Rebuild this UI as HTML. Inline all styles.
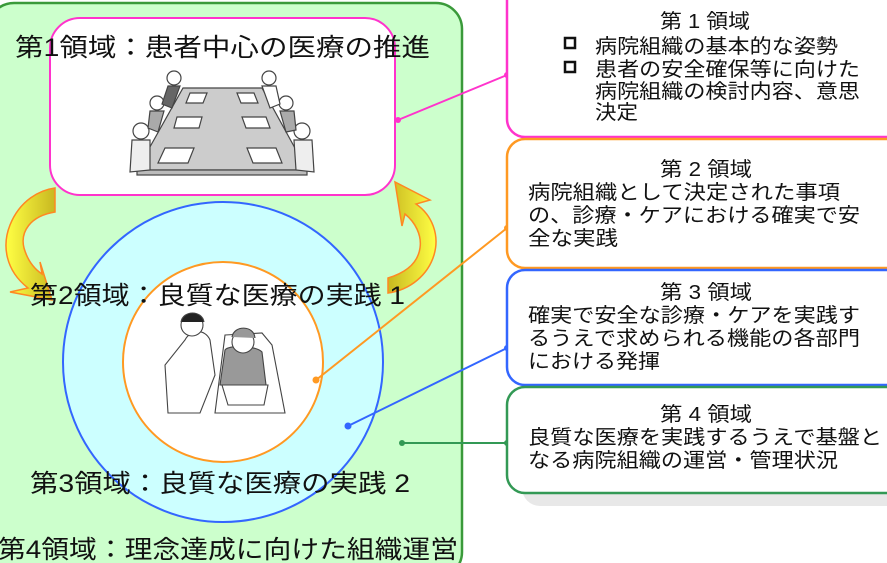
<!DOCTYPE html>
<html><head><meta charset="utf-8"><style>
html,body{margin:0;padding:0;background:#fff;width:887px;height:563px;overflow:hidden}
svg{display:block;overflow:hidden}
text{font-family:"Liberation Sans","Noto Sans CJK JP",sans-serif;fill:#111}
</style></head><body>
<svg width="887" height="563" viewBox="0 0 887 563">
<defs>
<linearGradient id="ag" x1="0" y1="0" x2="1" y2="0">
<stop offset="0" stop-color="#ffff44"/><stop offset="1" stop-color="#c8b820"/></linearGradient>
<linearGradient id="ag2" x1="1" y1="0" x2="0" y2="0">
<stop offset="0" stop-color="#ffff44"/><stop offset="1" stop-color="#c8b820"/></linearGradient>
</defs>
<rect x="-12" y="3" width="474" height="575" rx="26" fill="#ccffcc" stroke="#3a9a3a" stroke-width="2.5"/>
<rect x="50" y="18" width="345" height="177" rx="30" fill="#fff" stroke="#ff33cc" stroke-width="2"/>
<circle cx="223" cy="362" r="160" fill="#ccffff" stroke="#3366ff" stroke-width="2"/>
<circle cx="223" cy="362" r="100" fill="#fff" stroke="#ff9922" stroke-width="2"/>
<!-- curved arrows -->
<path d="M55,188 L55,212 C30,216 20,232 24,248 C28,262 36,270 42,274 L40,262 L52,300 L10,292 L28,288 C5,270 2,245 10,225 C20,200 40,190 55,188 Z" fill="url(#ag)" stroke="#ff8822" stroke-width="1.5"/>
<path d="M388,293 L388,278 C408,272 418,262 420,248 C422,235 415,222 405,214 L402,226 L395,182 L430,200 L416,204 C432,215 440,235 434,255 C428,275 410,290 388,293 Z" fill="url(#ag2)" stroke="#ff8822" stroke-width="1.5"/>
<!-- meeting illustration -->
<g stroke="#444" stroke-width="1.2">
<path d="M183,88 L262,88 L307,170 L137,170 Z" fill="#ccc"/>
<rect x="137" y="170" width="170" height="5" fill="#bbb"/>
<path d="M190,93 L207,93 L203,103 L186,103 Z" fill="#fff"/>
<path d="M237,93 L254,93 L258,103 L241,103 Z" fill="#fff"/>
<path d="M177,117 L202,117 L199,128 L174,128 Z" fill="#fff"/>
<path d="M242,117 L266,117 L270,128 L246,128 Z" fill="#fff"/>
<path d="M165,148 L194,148 L188,163 L158,163 Z" fill="#fff"/>
<path d="M247,148 L276,148 L282,163 L253,163 Z" fill="#fff"/>
<circle cx="174" cy="78" r="7" fill="#fff"/><circle cx="269" cy="78" r="7" fill="#fff"/>
<circle cx="157" cy="103" r="7" fill="#fff"/><circle cx="286" cy="103" r="7" fill="#fff"/>
<circle cx="141" cy="131" r="8" fill="#fff"/><circle cx="302" cy="131" r="8" fill="#fff"/>
<path d="M168,86 L180,86 L172,108 L162,104 Z" fill="#666"/>
<path d="M262,86 L276,86 L280,104 L270,108 Z" fill="#fff"/>
<path d="M150,111 L164,111 L158,132 L148,128 Z" fill="#aaa"/>
<path d="M280,111 L294,111 L296,130 L286,132 Z" fill="#aaa"/>
<path d="M132,140 L150,140 L150,170 L130,172 Z" fill="#eee"/>
<path d="M294,140 L312,140 L314,172 L296,170 Z" fill="#eee"/>
</g>
<!-- patient illustration -->
<g stroke="#444" stroke-width="1.1" fill="#fff">
<path d="M225,335 L262,333 L272,345 L285,413 L215,413 Z"/>
<path d="M225,350 C228,345 255,345 262,352 L266,385 L220,385 Z" fill="#999"/>
<circle cx="243" cy="342" r="11"/>
<path d="M232,337 C234,325 254,325 255,338" fill="#999"/>
<path d="M185,340 C190,330 205,328 210,340 L215,375 L200,413 L168,413 L165,365 Z"/>
<circle cx="192" cy="325" r="11"/>
<path d="M181,322 C183,310 202,310 204,322" fill="#222"/>
<path d="M222,385 L268,385 L264,405 L228,405 Z"/>
</g>
<g font-size="25">
<text x="15" y="56" textLength="415" lengthAdjust="spacingAndGlyphs">第1領域：患者中心の医療の推進</text>
<text x="30" y="304" textLength="375" lengthAdjust="spacingAndGlyphs">第2領域：良質な医療の実践 1</text>
<text x="30" y="492" textLength="380" lengthAdjust="spacingAndGlyphs">第3領域：良質な医療の実践 2</text>
<text x="-2" y="558" textLength="460" lengthAdjust="spacingAndGlyphs">第4領域：理念達成に向けた組織運営</text>
</g>
<g stroke-width="2">
<line x1="398" y1="120" x2="507" y2="75" stroke="#ff33cc"/>
<line x1="316" y1="380" x2="507" y2="228" stroke="#ff9922"/>
<line x1="348" y1="426" x2="507" y2="348" stroke="#3366ff"/>
<line x1="402" y1="443" x2="507" y2="443" stroke="#339955"/>
</g>
<circle cx="398" cy="120" r="3" fill="#ff33cc"/><circle cx="507" cy="75" r="3" fill="#ff33cc"/>
<circle cx="316" cy="380" r="3.5" fill="#ff9922"/><circle cx="507" cy="228" r="3" fill="#ff9922"/>
<circle cx="348" cy="426" r="3.5" fill="#3366ff"/><circle cx="507" cy="348" r="3" fill="#3366ff"/>
<circle cx="402" cy="443" r="3" fill="#339955"/><circle cx="507" cy="443" r="3" fill="#339955"/>
<rect x="522" y="398" width="400" height="108" rx="18" fill="#e8e8e8"/>
<rect x="507" y="-20" width="400" height="157" rx="18" fill="#fff" stroke="#ff33cc" stroke-width="2.5"/>
<rect x="507" y="139" width="400" height="129" rx="18" fill="#fff" stroke="#ff9922" stroke-width="2.5"/>
<rect x="507" y="270" width="400" height="115" rx="18" fill="#fff" stroke="#3366ff" stroke-width="2.5"/>
<rect x="507" y="387" width="400" height="106" rx="18" fill="#fff" stroke="#339955" stroke-width="2.5"/>
<g font-size="20" lengthAdjust="spacingAndGlyphs">
<text x="660" y="28" textLength="90" lengthAdjust="spacingAndGlyphs">第 1 領域</text>
<rect x="565" y="38" width="10" height="10" fill="none" stroke="#111" stroke-width="2.5"/>
<rect x="565" y="62" width="10" height="10" fill="none" stroke="#111" stroke-width="2.5"/>
<text x="595" y="53" textLength="243" lengthAdjust="spacingAndGlyphs">病院組織の基本的な姿勢</text>
<text x="595" y="76" textLength="265" lengthAdjust="spacingAndGlyphs">患者の安全確保等に向けた</text>
<text x="595" y="98" textLength="265" lengthAdjust="spacingAndGlyphs">病院組織の検討内容、意思</text>
<text x="595" y="119" textLength="43" lengthAdjust="spacingAndGlyphs">決定</text>
<text x="660" y="176" textLength="92" lengthAdjust="spacingAndGlyphs">第 2 領域</text>
<text x="528" y="199" textLength="312" lengthAdjust="spacingAndGlyphs">病院組織として決定された事項</text>
<text x="528" y="222" textLength="332" lengthAdjust="spacingAndGlyphs">の、診療・ケアにおける確実で安</text>
<text x="528" y="245" textLength="90" lengthAdjust="spacingAndGlyphs">全な実践</text>
<text x="660" y="299" textLength="92" lengthAdjust="spacingAndGlyphs">第 3 領域</text>
<text x="528" y="322" textLength="332" lengthAdjust="spacingAndGlyphs">確実で安全な診療・ケアを実践す</text>
<text x="528" y="345" textLength="332" lengthAdjust="spacingAndGlyphs">るうえで求められる機能の各部門</text>
<text x="528" y="368" textLength="132" lengthAdjust="spacingAndGlyphs">における発揮</text>
<text x="660" y="421" textLength="92" lengthAdjust="spacingAndGlyphs">第 4 領域</text>
<text x="528" y="444" textLength="354" lengthAdjust="spacingAndGlyphs">良質な医療を実践するうえで基盤と</text>
<text x="528" y="467" textLength="310" lengthAdjust="spacingAndGlyphs">なる病院組織の運営・管理状況</text>
</g>
</svg>
</body></html>
